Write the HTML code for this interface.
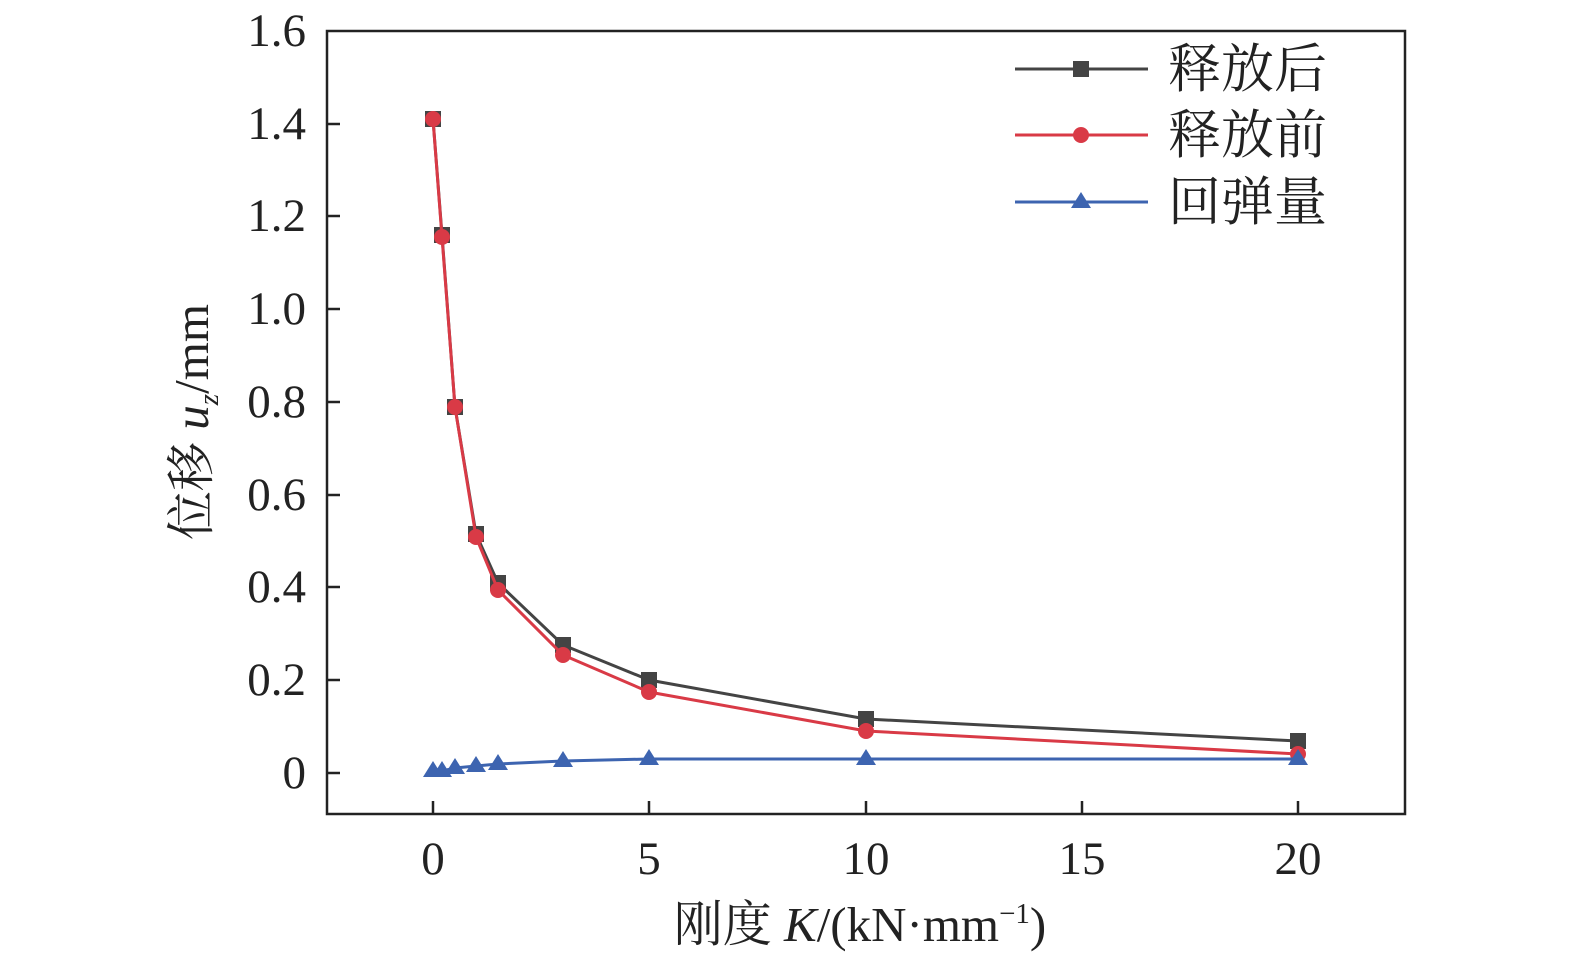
<!DOCTYPE html>
<html><head><meta charset="utf-8"><style>
html,body{margin:0;padding:0;background:#fff;}
svg text{font-family:"Liberation Serif","Noto Serif CJK SC",serif;fill:#222;}
</style></head><body>
<svg width="1575" height="961" viewBox="0 0 1575 961" xmlns="http://www.w3.org/2000/svg">
<rect x="327" y="31" width="1078" height="783" fill="none" stroke="#222" stroke-width="2.5"/>
<g stroke="#222" stroke-width="2.5">
<line x1="327" y1="773" x2="340" y2="773"/><line x1="327" y1="680" x2="340" y2="680"/>
<line x1="327" y1="587" x2="340" y2="587"/><line x1="327" y1="495" x2="340" y2="495"/>
<line x1="327" y1="402" x2="340" y2="402"/><line x1="327" y1="309" x2="340" y2="309"/>
<line x1="327" y1="216" x2="340" y2="216"/><line x1="327" y1="124" x2="340" y2="124"/>
<line x1="433" y1="814" x2="433" y2="801"/><line x1="649" y1="814" x2="649" y2="801"/>
<line x1="866" y1="814" x2="866" y2="801"/><line x1="1082" y1="814" x2="1082" y2="801"/>
<line x1="1298" y1="814" x2="1298" y2="801"/>
</g>
<g font-size="47" text-anchor="end">
<text x="306" y="788">0</text><text x="306" y="695">0.2</text><text x="306" y="602">0.4</text>
<text x="306" y="510">0.6</text><text x="306" y="417">0.8</text><text x="306" y="324">1.0</text>
<text x="306" y="231">1.2</text><text x="306" y="139">1.4</text><text x="306" y="46">1.6</text>
</g>
<g font-size="47" text-anchor="middle">
<text x="433" y="874">0</text><text x="649" y="874">5</text><text x="866" y="874">10</text>
<text x="1082" y="874">15</text><text x="1298" y="874">20</text>
</g>
<text x="860" y="941" font-size="49" text-anchor="middle">刚度 <tspan font-style="italic">K</tspan>/(kN·mm<tspan font-size="29" dy="-18">−1</tspan><tspan dy="18">)</tspan></text>
<text transform="translate(208,422) rotate(-90)" font-size="49" text-anchor="middle">位移 <tspan font-style="italic">u</tspan><tspan font-style="italic" font-size="29" dy="10">z</tspan><tspan dy="-10">/mm</tspan></text>
<polyline fill="none" stroke="#444" stroke-width="3" points="433,119 442,235 455,407 476,534 498,583 563,645 649,680 866,719 1298,741"/>
<g fill="#444"><rect x="425" y="111" width="16" height="16"/><rect x="434" y="227" width="16" height="16"/><rect x="447" y="399" width="16" height="16"/><rect x="468" y="526" width="16" height="16"/><rect x="490" y="575" width="16" height="16"/><rect x="555" y="637" width="16" height="16"/><rect x="641" y="672" width="16" height="16"/><rect x="858" y="711" width="16" height="16"/><rect x="1290" y="733" width="16" height="16"/></g>
<polyline fill="none" stroke="#d93a46" stroke-width="3" points="433,119 442,237 455,407 476,537 498,590 563,655 649,692 866,731 1298,754"/>
<g fill="#d93a46"><circle cx="433" cy="119" r="8"/><circle cx="442" cy="237" r="8"/><circle cx="455" cy="407" r="8"/><circle cx="476" cy="537" r="8"/><circle cx="498" cy="590" r="8"/><circle cx="563" cy="655" r="8"/><circle cx="649" cy="692" r="8"/><circle cx="866" cy="731" r="8"/><circle cx="1298" cy="754" r="8"/></g>
<polyline fill="none" stroke="#3d64b0" stroke-width="3" points="433,771 442,771 455,768 476,766 498,764 563,761 649,759 866,759 1298,759"/>
<g fill="#3d64b0">
<polygon points="433,761 443,777 423,777"/><polygon points="442,761 452,777 432,777"/><polygon points="455,758 465,774 445,774"/><polygon points="476,756 486,772 466,772"/><polygon points="498,754 508,770 488,770"/><polygon points="563,751 573,767 553,767"/><polygon points="649,749 659,765 639,765"/><polygon points="866,749 876,765 856,765"/><polygon points="1298,749 1308,765 1288,765"/></g>
<line x1="1015" y1="69" x2="1148" y2="69" stroke="#444" stroke-width="3"/><rect x="1073" y="61" width="16" height="16" fill="#444"/>
<line x1="1015" y1="135" x2="1148" y2="135" stroke="#d93a46" stroke-width="3"/><circle cx="1081" cy="135" r="8" fill="#d93a46"/>
<line x1="1015" y1="202" x2="1148" y2="202" stroke="#3d64b0" stroke-width="3"/><polygon points="1081,192 1091,208 1071,208" fill="#3d64b0"/>
<g font-size="53"><text x="1168" y="87">释放后</text><text x="1168" y="153">释放前</text><text x="1168" y="220">回弹量</text></g>
</svg>
</body></html>
